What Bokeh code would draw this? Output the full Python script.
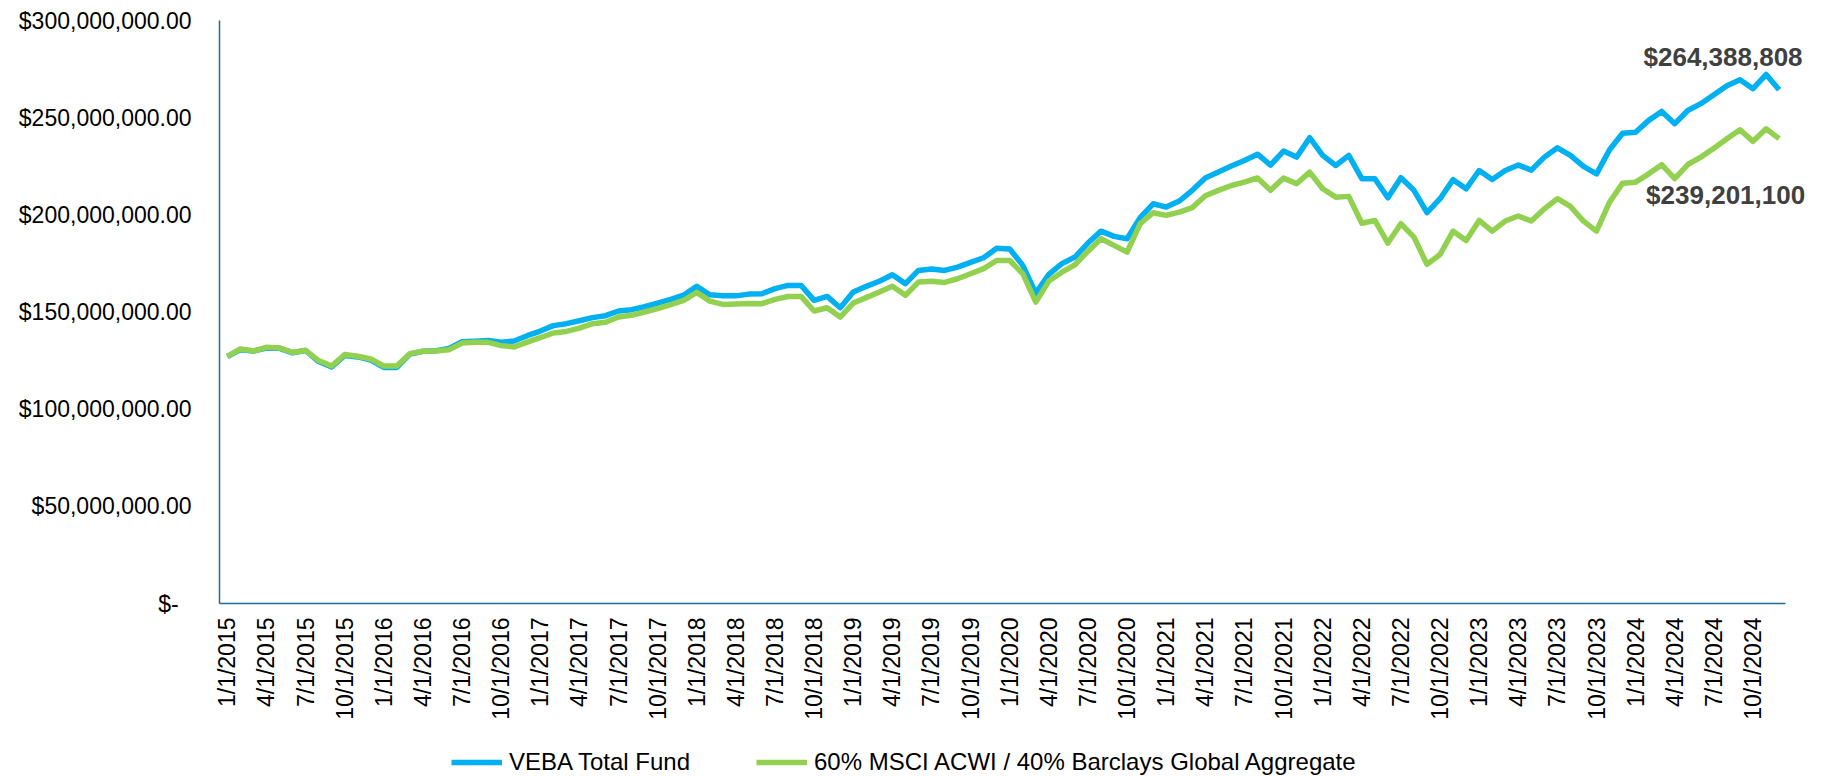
from bokeh.plotting import figure
from bokeh.layouts import column
from bokeh.models import FixedTicker, Range1d, Legend, LegendItem, Label, ColumnDataSource
from bokeh.embed import file_html
from bokeh.resources import INLINE
import math

months = [f"{m}/1/{y}" for y in range(2015, 2025) for m in range(1, 13)]

veba_m = [
    127.0, 130.6, 129.9, 131.5, 131.3, 129.0, 130.2, 124.5, 121.7, 127.6,
    126.9, 125.2, 121.5, 121.5, 128.3, 129.8, 130.1, 131.2, 134.7, 135.0,
    135.4, 134.4, 135.1, 137.8, 140.2, 143.0, 144.0, 145.5, 147.1, 148.1,
    150.5, 151.2, 152.7, 154.6, 156.5, 158.7, 163.2, 158.9, 158.4, 158.3, 159.2,
    159.4, 162.0, 163.7, 163.7, 156.0, 158.0, 152.2, 160.3, 163.2, 165.8,
    169.2, 164.6, 171.4, 172.1, 171.4, 173.1, 175.5, 177.9, 182.8, 182.4,
    174.0, 159.7, 169.4, 174.9, 178.3, 185.5, 191.6, 188.9, 187.7, 198.5,
    205.7, 204.0, 207.1, 212.6, 218.9, 222.0, 225.1, 228.0, 231.2, 225.6,
    232.8, 229.7, 239.7, 230.6, 225.4, 230.6, 218.6, 218.6, 208.8, 219.1,
    212.6, 201.1, 208.3, 218.1, 213.4, 222.8, 218.2, 222.8, 225.6, 223.0,
    229.7, 234.5, 230.6, 224.9, 221.1, 233.5, 242.0, 242.5, 248.6, 253.2,
    246.9, 253.7, 257.2, 261.8, 266.4, 269.5, 264.9, 272.2, 264.388808,
]

bench_m = [
    127.2, 131.0, 129.9, 131.8, 131.5, 129.2, 130.3, 125.0, 122.2, 128.1,
    127.2, 125.8, 122.2, 122.2, 128.6, 129.8, 129.9, 130.6, 134.0, 134.4,
    134.4, 132.7, 132.0, 134.5, 136.8, 139.2, 140.0, 141.7, 144.0, 144.7,
    147.4, 148.3, 150.0, 151.7, 153.8, 156.0, 160.1, 155.6, 153.9, 154.1, 154.4,
    154.3, 156.5, 158.0, 158.0, 150.5, 152.2, 147.4, 154.6, 157.4, 160.3,
    163.3, 158.6, 165.4, 165.8, 165.2, 167.1, 169.7, 172.3, 176.5, 176.5,
    169.7, 155.1, 165.9, 170.5, 174.3, 181.3, 187.7, 184.3, 180.8, 195.4,
    201.1, 199.7, 201.4, 203.7, 209.8, 212.6, 215.1, 216.8, 219.0, 212.6,
    218.9, 216.0, 222.0, 213.4, 209.1, 209.5, 195.7, 197.1, 185.5, 195.4,
    188.5, 174.5, 179.6, 191.6, 186.8, 197.1, 191.6, 196.8, 199.4, 196.8,
    203.1, 208.3, 204.3, 196.8, 191.6, 206.5, 216.3, 216.8, 221.1, 225.8,
    218.6, 225.9, 229.7, 234.3, 239.1, 243.8, 237.8, 244.3, 239.2011,
]

series_names = ["VEBA Total Fund", "60% MSCI ACWI / 40% Barclays Global Aggregate"]
end_labels = ["$264,388,808", "$239,201,100"]

y_ticks = [0, 50_000_000, 100_000_000, 150_000_000, 200_000_000, 250_000_000, 300_000_000]
y_tick_labels = ["$-\u00a0\u00a0", "$50,000,000.00", "$100,000,000.00", "$150,000,000.00",
                 "$200,000,000.00", "$250,000,000.00", "$300,000,000.00"]

x_tick_idx = list(range(0, len(months), 3))
x_tick_labels = [months[i] for i in x_tick_idx]

veba = [v * 1e6 for v in veba_m]
bench = [v * 1e6 for v in bench_m]
idx = list(range(len(months)))

src = ColumnDataSource(dict(x=idx, veba=veba, bench=bench, month=months))

FONT = "Liberation Sans"
BLUE = "#00B0F0"
GREEN = "#92D050"
AXIS = "#24699C"
LINE_W = 5.5

FRAME_W = 1601
PX_PER_MONTH = 13.04
X0 = -0.6
X1 = X0 + FRAME_W / PX_PER_MONTH
AXIS_END = 119.46

p = figure(
    output_backend="svg", toolbar_location=None,
    frame_width=FRAME_W, frame_height=583,
    min_border_left=219, min_border_right=8, min_border_top=20, min_border_bottom=142,
    x_range=Range1d(X0, X1), y_range=Range1d(0, 300_000_000),
    background_fill_color="white", border_fill_color="white",
)
p.outline_line_color = None
p.grid.grid_line_color = None

r1 = p.line("x", "veba", source=src, line_color=BLUE, line_width=LINE_W, line_join="round")
r2 = p.line("x", "bench", source=src, line_color=GREEN, line_width=LINE_W, line_join="round")

# axes
p.xaxis.ticker = FixedTicker(ticks=x_tick_idx)
p.xaxis.major_label_overrides = {i: lab for i, lab in zip(x_tick_idx, x_tick_labels)}
p.xaxis.major_label_orientation = math.pi / 2
p.xaxis.bounds = (X0, AXIS_END)
p.yaxis.ticker = FixedTicker(ticks=y_ticks)
p.yaxis.major_label_overrides = {t: lab for t, lab in zip(y_ticks, y_tick_labels)}

for ax in (p.xaxis[0], p.yaxis[0]):
    ax.axis_line_color = AXIS
    ax.axis_line_width = 1.5
    ax.major_tick_line_color = None
    ax.minor_tick_line_color = None
    ax.major_tick_out = 0
    ax.major_tick_in = 0
    ax.major_label_text_font = FONT
    ax.major_label_text_font_size = "23px"
    ax.major_label_text_color = "#000000"
p.xaxis.major_label_standoff = 14
p.yaxis.major_label_standoff = 28

# end-value labels
last = len(months) - 1
p.add_layout(Label(x=last + 1.8, y=veba[-1] + 17_000_000, text=end_labels[0],
                   text_align="right", text_baseline="middle",
                   text_font=FONT, text_font_size="26px", text_font_style="bold",
                   text_color="#404040"))
p.add_layout(Label(x=last + 2.0, y=bench[-1] - 29_000_000, text=end_labels[1],
                   text_align="right", text_baseline="middle",
                   text_font=FONT, text_font_size="26px", text_font_style="bold",
                   text_color="#404040"))

# legend strip below the chart (same series, drawn outside this strip's ranges)
pl = figure(
    output_backend="svg", toolbar_location=None,
    width=1828, height=31, min_border=0,
    x_axis_type=None, y_axis_type=None,
    x_range=Range1d(-10, -9), y_range=Range1d(0, 1),
    background_fill_color="white", border_fill_color="white",
)
pl.outline_line_color = None
pl.grid.grid_line_color = None
lr1 = pl.line("x", "veba", source=src, line_color=BLUE, line_width=LINE_W)
lr2 = pl.line("x", "bench", source=src, line_color=GREEN, line_width=LINE_W)

legend = Legend(
    items=[LegendItem(label=series_names[0], renderers=[lr1]),
           LegendItem(label=series_names[1], renderers=[lr2])],
    orientation="horizontal", location=(232, 0),
    padding=0, margin=0, spacing=66,
    glyph_width=51, glyph_height=20, label_standoff=7,
    border_line_color=None, background_fill_alpha=0,
    label_text_font=FONT, label_text_font_size="24px", label_text_color="#000000",
)
pl.add_layout(legend, "center")

layout = column(p, pl, spacing=0)
open("out.html", "w").write(file_html(layout, INLINE))
